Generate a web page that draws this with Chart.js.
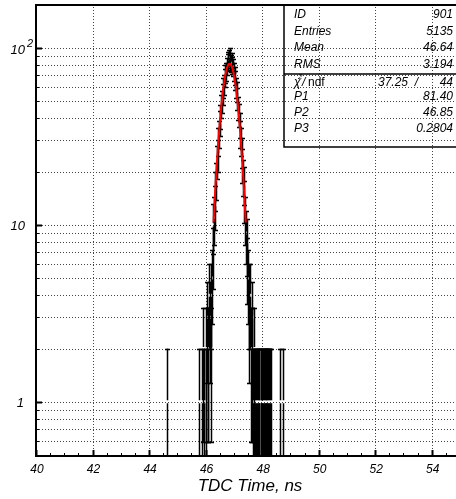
<!DOCTYPE html>
<html>
<head>
<meta charset="utf-8">
<script src="https://cdn.jsdelivr.net/npm/chart.js@4/dist/chart.umd.min.js"></script>
<style>
html, body { margin: 0; padding: 0; background: #fff; overflow: hidden; width: 456px; height: 499px; }
canvas { display: block; }
</style>
</head>
<body>
<canvas id="tdcChart" width="470" height="499"></canvas>
<script>
// histogram bins (centre, content, error)
const binX = [44.625, 45.750, 45.875, 45.925, 45.950, 46.000, 46.025, 46.050, 46.075, 46.100,
    46.125, 46.150, 46.175, 46.200, 46.225, 46.250, 46.275, 46.300, 46.325, 46.350,
    46.375, 46.400, 46.425, 46.450, 46.475, 46.500, 46.525, 46.550, 46.575, 46.600,
    46.625, 46.650, 46.675, 46.700, 46.725, 46.750, 46.775, 46.800, 46.825, 46.850,
    46.875, 46.900, 46.925, 46.950, 46.975, 47.000, 47.025, 47.050, 47.075, 47.100,
    47.125, 47.150, 47.175, 47.200, 47.225, 47.250, 47.275, 47.300, 47.325, 47.350,
    47.375, 47.400, 47.425, 47.450, 47.475, 47.500, 47.525, 47.550, 47.575, 47.600,
    47.625, 47.650, 47.675, 47.700, 47.725, 47.750, 47.775, 47.825, 47.850, 47.875,
    47.900, 47.950, 47.975, 48.000, 48.025, 48.050, 48.100, 48.125, 48.150, 48.175,
    48.225, 48.250, 48.275, 48.325, 48.625, 48.750];
const binCounts = [1, 1, 1, 2, 1, 2, 1, 3, 2, 2,
    4, 3, 2, 4, 5, 7, 10, 11, 13, 16,
    18, 23, 25, 30, 33, 38, 41, 47, 50, 55,
    60, 62, 68, 72, 74, 79, 83, 86, 88, 84,
    90, 82, 84, 80, 78, 74, 70, 66, 60, 57,
    52, 46, 42, 37, 33, 30, 26, 22, 19, 17,
    14, 11, 9, 8, 6, 5, 4, 3, 4, 2,
    3, 2, 1, 2, 1, 1, 1, 1, 1, 1,
    1, 1, 1, 1, 1, 1, 1, 1, 1, 1,
    1, 1, 1, 1, 1, 1];
const binErrors = [1, 1, 1, 1.41, 1, 1.41, 1, 1.73, 1.41, 1.41,
    2, 1.73, 1.41, 2, 2.24, 2.65, 3.16, 3.32, 3.61, 4,
    4.24, 4.8, 5, 5.48, 5.74, 6.16, 6.4, 6.86, 7.07, 7.42,
    7.75, 7.87, 8.25, 8.49, 8.6, 8.89, 9.11, 9.27, 9.38, 9.17,
    9.49, 9.06, 9.17, 8.94, 8.83, 8.6, 8.37, 8.12, 7.75, 7.55,
    7.21, 6.78, 6.48, 6.08, 5.74, 5.48, 5.1, 4.69, 4.36, 4.12,
    3.74, 3.32, 3, 2.83, 2.45, 2.24, 2, 1.73, 2, 1.41,
    1.73, 1.41, 1, 1.41, 1, 1, 1, 1, 1, 1,
    1, 1, 1, 1, 1, 1, 1, 1, 1, 1,
    1, 1, 1, 1, 1, 1];

// red fit curve
const fitX = [46.28, 46.35, 46.40, 46.45, 46.50, 46.55, 46.60, 46.65, 46.70, 46.75, 46.80, 46.85,
    46.90, 46.95, 47.00, 47.05, 47.10, 47.15, 47.20, 47.25, 47.30, 47.35, 47.42];
const fitY = [10.3, 16.6, 22.5, 29.4, 37.4, 45.9, 54.7, 63.1, 70.5, 76.4, 80.1, 81.4,
    80.1, 76.4, 70.5, 63.1, 54.7, 45.9, 37.4, 29.4, 22.5, 16.6, 10.3];

const xMajorTicks = [40, 42, 44, 46, 48, 50, 52, 54];
const yDecades = [1, 10, 100];
const yMinorGrid = [0.6, 0.7, 0.8, 0.9, 2, 3, 4, 5, 6, 7, 8, 9, 20, 30, 40, 50, 60, 70, 80, 90];

const statsLabels = ['ID', 'Entries', 'Mean', 'RMS'];
const statsValues = ['901', '5135', '46.64', '3.194'];
const chiValue = '37.25';
const ndfValue = '44';
const parLabels = ['P1', 'P2', 'P3'];
const parValues = ['81.40', '46.85', '0.2804'];

const FONT = '"Liberation Sans", Arial, sans-serif';

const rootStyle = {
    id: 'rootStyle',
    beforeDatasetsDraw(chart) {
        const ctx = chart.ctx;
        const a = chart.chartArea;
        const xs = chart.scales.x, ys = chart.scales.y;
        ctx.save();
        ctx.beginPath();
        ctx.rect(a.left, a.top, a.right - a.left, a.bottom - a.top);
        ctx.clip();

        // dotted grid
        ctx.strokeStyle = '#444';
        ctx.lineWidth = 1;
        ctx.setLineDash([1, 2]);
        xMajorTicks.forEach(v => {
            const px = Math.round(xs.getPixelForValue(v)) + 0.5;
            ctx.beginPath(); ctx.moveTo(px, a.top); ctx.lineTo(px, a.bottom); ctx.stroke();
        });
        yDecades.concat(yMinorGrid).forEach(v => {
            const py = Math.round(ys.getPixelForValue(v)) + 0.5;
            ctx.beginPath(); ctx.moveTo(a.left, py); ctx.lineTo(a.right, py); ctx.stroke();
        });
        ctx.setLineDash([]);

        // error bars with a small gap at the bin content
        ctx.strokeStyle = '#000';
        ctx.lineWidth = 1.5;
        binX.forEach((x, i) => {
            const n = binCounts[i], e = binErrors[i];
            const px = Math.round(xs.getPixelForValue(x)) + 0.5;
            const py = ys.getPixelForValue(n);
            const lo = n - e > 0 ? ys.getPixelForValue(n - e) : a.bottom + 5;
            const hi = ys.getPixelForValue(n + e);
            ctx.beginPath();
            ctx.moveTo(px, lo); ctx.lineTo(px, py + 1.5);
            ctx.moveTo(px, py - 1.5); ctx.lineTo(px, hi);
            ctx.moveTo(px - 2.5, Math.round(hi) + 0.5); ctx.lineTo(px + 2.5, Math.round(hi) + 0.5);
            if (n - e > 0) {
                ctx.moveTo(px - 2.5, Math.round(lo) + 0.5); ctx.lineTo(px + 2.5, Math.round(lo) + 0.5);
            }
            ctx.stroke();
        });
        ctx.restore();
    },
    afterDatasetsDraw(chart) {
        const ctx = chart.ctx;
        const a = chart.chartArea;
        const xs = chart.scales.x, ys = chart.scales.y;
        ctx.save();
        ctx.strokeStyle = '#000';

        // ticks on the x axis
        for (let v = 40; v <= 55; v += 0.5) {
            const px = Math.round(xs.getPixelForValue(v)) + 0.5;
            const major = v % 2 === 0;
            ctx.lineWidth = major ? 2 : 1;
            ctx.beginPath(); ctx.moveTo(px, a.bottom); ctx.lineTo(px, a.bottom - (major ? 6 : 3)); ctx.stroke();
        }
        // ticks on the y axis
        yDecades.concat(yMinorGrid).forEach(v => {
            const py = Math.round(ys.getPixelForValue(v)) + 0.5;
            const major = yDecades.includes(v);
            ctx.lineWidth = major ? 2 : 1;
            ctx.beginPath(); ctx.moveTo(a.left, py); ctx.lineTo(a.left + (major ? 6 : 3), py); ctx.stroke();
        });

        // frame
        ctx.lineWidth = 2;
        ctx.beginPath();
        ctx.moveTo(a.right, a.top + 1); ctx.lineTo(a.left, a.top + 1);
        ctx.lineTo(a.left, a.bottom); ctx.lineTo(a.right, a.bottom);
        ctx.stroke();

        // tick labels
        ctx.fillStyle = '#000';
        ctx.font = 'italic 12px ' + FONT;
        ctx.textAlign = 'center';
        ctx.textBaseline = 'alphabetic';
        xMajorTicks.forEach(v => {
            ctx.fillText(String(v), xs.getPixelForValue(v) + 1, 473);
        });
        ctx.font = 'italic 13px ' + FONT;
        ctx.textAlign = 'right';
        ctx.fillText('1', 24, ys.getPixelForValue(1) + 5);
        ctx.fillText('10', 25, ys.getPixelForValue(10) + 5);
        ctx.fillText('10', 25, ys.getPixelForValue(100) + 6);
        ctx.font = 'italic 11px ' + FONT;
        ctx.textAlign = 'left';
        ctx.fillText('2', 27, ys.getPixelForValue(100) - 1);

        // axis title
        ctx.font = 'italic 17px ' + FONT;
        ctx.textAlign = 'center';
        ctx.fillText('TDC Time, ns', 250, 491);

        // statistics box
        const bx = 284, by = a.top + 1, bBottom = 147, divY = 74, rEdge = 453;
        ctx.lineWidth = 1.5;
        ctx.beginPath();
        ctx.moveTo(bx, by); ctx.lineTo(bx, bBottom); ctx.lineTo(a.right, bBottom);
        ctx.moveTo(bx, divY); ctx.lineTo(a.right, divY);
        ctx.stroke();

        ctx.font = 'italic 12px ' + FONT;
        const rowY = [18, 35, 51, 68];
        statsLabels.forEach((t, i) => {
            ctx.textAlign = 'left';
            ctx.fillText(t, 294, rowY[i]);
            ctx.textAlign = 'right';
            ctx.fillText(statsValues[i], rEdge, rowY[i]);
        });
        // chi2 / ndf row
        const chiY = 86;
        ctx.textAlign = 'left';
        ctx.fillText('\u03c7', 294, chiY);
        ctx.font = 'italic 8px ' + FONT;
        ctx.fillText('2', 298, chiY - 7);
        ctx.font = 'italic 12px ' + FONT;
        ctx.fillText('/', 302, chiY);
        ctx.font = '12px ' + FONT;
        ctx.fillText('ndf', 308, chiY);
        ctx.font = 'italic 12px ' + FONT;
        ctx.textAlign = 'right';
        ctx.fillText(chiValue, 408, chiY);
        ctx.fillText('/', 418, chiY);
        ctx.fillText(ndfValue, rEdge, chiY);
        const parY = [100, 116, 132];
        parLabels.forEach((t, i) => {
            ctx.textAlign = 'left';
            ctx.fillText(t, 294, parY[i]);
            ctx.textAlign = 'right';
            ctx.fillText(parValues[i], rEdge, parY[i]);
        });
        ctx.restore();
    }
};

new Chart(document.getElementById('tdcChart'), {
    type: 'scatter',
    data: {
        datasets: [{
            label: 'TDC',
            data: binX.map((x, i) => ({ x: x, y: binCounts[i] })),
            pointRadius: 0,
            showLine: false
        }, {
            label: 'fit',
            data: fitX.map((x, i) => ({ x: x, y: fitY[i] })),
            showLine: true,
            borderColor: '#ff0000',
            borderWidth: 2,
            pointRadius: 0,
            cubicInterpolationMode: 'monotone',
            fill: false
        }]
    },
    options: {
        responsive: false,
        animation: false,
        devicePixelRatio: 1,
        layout: { padding: { left: 36, top: 4, right: 10, bottom: 43 } },
        plugins: { legend: { display: false }, tooltip: { enabled: false } },
        scales: {
            x: { type: 'linear', min: 40, max: 55, display: false },
            y: { type: 'logarithmic', min: 0.494, max: 177, display: false }
        }
    },
    plugins: [rootStyle]
});
</script>
</body>
</html>
